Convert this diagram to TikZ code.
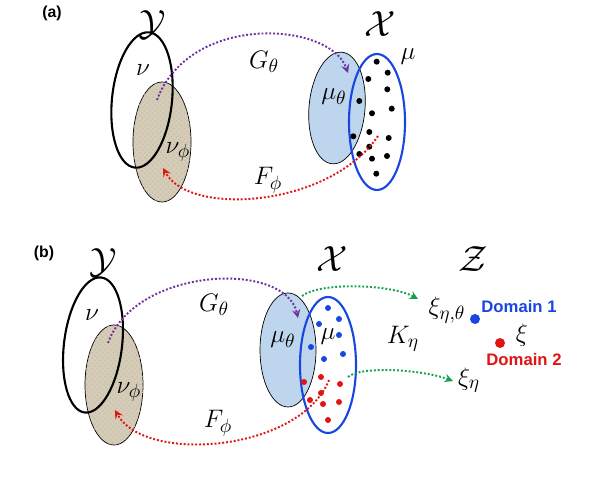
\documentclass[tikz,border=0pt]{standalone}
\usepackage{amsmath}
\usepackage{amssymb}
\usepackage{fontspec}
\setsansfont{Liberation Sans}
\usepackage{tikz}
\usetikzlibrary{patterns, arrows}
\definecolor{purp}{RGB}{112,48,160}
\definecolor{redd}{RGB}{225,20,20}
\definecolor{grn}{RGB}{20,160,80}
\definecolor{blu}{RGB}{25,70,225}
\definecolor{lblue}{RGB}{189,214,238}
\definecolor{tan}{RGB}{214,204,180}
\tikzset{
    map/.style={line width=1.1pt, dash pattern=on 1.1pt off 1.1pt, -stealth},
    sample/.style={fill=tan, draw=black, line width=0.4pt},
    gen/.style={fill=lblue, draw=black, line width=0.4pt},
    lbl/.style={font=\fontsize{15.5}{17}\selectfont},
    sp/.style={font=\huge, inner sep=0pt},
    tag/.style={font=\sffamily\bfseries\small},
    dom/.style={font=\sffamily\bfseries\fontsize{9.5}{11}\selectfont}
}

\begin{document}
\begin{tikzpicture}[x=0.02cm, y=0.02cm, >=stealth]
            \useasboundingbox (0,0) rectangle (598,482);
            % (a)
            \node[tag] (taga) at (52,469) {(a)};
            \node[sp] (Ya) at (152,457) {$\mathcal{Y}$};
            \node[sp] (Xa) at (380,458) {$\mathcal{X}$};
            \fill[sample] (162,340) ellipse [x radius=29, y radius=60];
            \fill[pattern=crosshatch dots, pattern color=black!25] (162,340) ellipse [x radius=29, y radius=60];
            \draw[line width=1.2pt, rotate around={-6:(142,382)}] (142,382) ellipse [x radius=30, y radius=68];
            \fill[gen, rotate around={-5:(337,374)}] (337,374) ellipse [x radius=28, y radius=56];
            \draw[blu, line width=1.2pt] (377,360) ellipse [x radius=28, y radius=68];
            \foreach \px/\py in {376.7/61.7, 387.7/72.7, 368.3/79, 387.3/89.3, 359.3/101, 391.7/108.7, 372/113.3, 369.3/132, 388.7/138, 353.3/136.3, 369.3/146.7, 359.3/154, 372/158.7, 387/156, 376.3/173.7}
                \fill (\px,482-\py) circle (3);
            \node[lbl] (nua) at (143,412) {$\nu$};
            \node[lbl] (nupa) at (178,330) {$\nu_\phi$};
            \node[lbl] (mua) at (408,425) {$\mu$};
            \node[lbl] (muta) at (334,385) {$\mu_\theta$};
            \node[lbl] (Ga) at (264,420) {$G_\theta$};
            \node[lbl] (Fa) at (268,302) {$F_\phi$};
            \coordinate (ga0) at (157,382);
            \coordinate (ga1) at (348,409);
            \coordinate (fa0) at (378,346);
            \coordinate (fa1) at (163,314);
            \draw[map, purp] (ga0) .. controls (190,470) and (330,460) .. (ga1);
            \draw[map, redd] (fa0) .. controls (330,275) and (190,265) .. (fa1);
            % (b)
            \node[tag] (tagb) at (44,229) {(b)};
            \node[sp] (Yb) at (103,219) {$\mathcal{Y}$};
            \node[sp] (Xb) at (332,223) {$\mathcal{X}$};
            \node[sp] (Zb) at (473,223) {$\mathcal{Z}$};
            \fill[sample] (114,97) ellipse [x radius=29, y radius=60];
            \fill[pattern=crosshatch dots, pattern color=black!25] (114,97) ellipse [x radius=29, y radius=60];
            \draw[line width=1.2pt, rotate around={-7:(93,137)}] (93,137) ellipse [x radius=29, y radius=68];
            \fill[gen] (288,132) ellipse [x radius=28, y radius=57];
            \draw[blu, line width=1.2pt] (328,117) ellipse [x radius=28, y radius=68];
            \foreach \px/\py in {328/308, 339/319, 319/324, 339/335, 311/347, 343/354, 324/359}
                \fill[blu] (\px,482-\py) circle (3);
            \foreach \px/\py in {321/377, 340/384, 304/382, 321/393, 310/400, 323/404, 339/402, 328/420}
                \fill[redd] (\px,482-\py) circle (3);
            \node[lbl] (nub) at (92,167) {$\nu$};
            \node[lbl] (nupb) at (129,90) {$\nu_\phi$};
            \node[lbl] (mub) at (328,145) {$\mu$};
            \node[lbl] (mutb) at (283,142) {$\mu_\theta$};
            \node[lbl] (Gb) at (214,177) {$G_\theta$};
            \node[lbl] (Fb) at (218,59) {$F_\phi$};
            \node[lbl] (Kb) at (403,143) {$K_\eta$};
            \node[lbl] (xiet) at (447,172) {$\xi_{\eta,\theta}$};
            \node[lbl] (xie) at (469,102) {$\xi_\eta$};
            \node[lbl] (xi) at (522,147) {$\xi$};
            \fill[blu] (475,163) circle (5);
            \fill[redd] (500,139) circle (5);
            \node[dom, blu] (d1) at (519,175) {Domain 1};
            \node[dom, redd] (d2) at (524,122) {Domain 2};
            \coordinate (gb0) at (108,139);
            \coordinate (gb1) at (298,164);
            \coordinate (fb0) at (329,102);
            \coordinate (fb1) at (115,72);
            \coordinate (kb0) at (302,186);
            \coordinate (kb1) at (418,183);
            \coordinate (kb2) at (348,105);
            \coordinate (kb3) at (453,101);
            \draw[map, purp] (gb0) .. controls (135,215) and (285,222) .. (gb1);
            \draw[map, redd] (fb0) .. controls (300,30) and (145,18) .. (fb1);
            \draw[map, grn] (kb0) .. controls (320,200) and (390,198) .. (kb1);
            \draw[map, grn] (kb2) .. controls (360,116) and (420,113) .. (kb3);
        \end{tikzpicture}
\end{document}
